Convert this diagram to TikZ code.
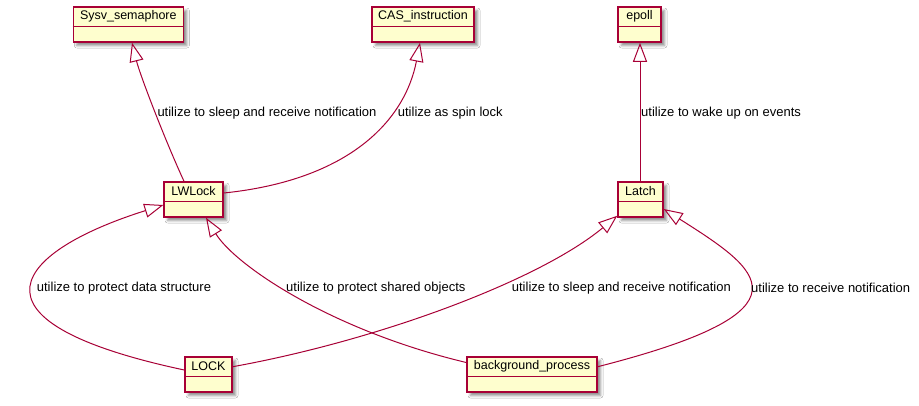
\documentclass[tikz,border=0pt]{standalone}
\usepackage{fontspec}
\setmainfont{Liberation Sans}
\usetikzlibrary{arrows.meta,shadows.blur}
\definecolor{umlfill}{HTML}{FEFECE}
\definecolor{umlborder}{HTML}{A80036}
\newcommand\umlclass[5]{%
  \node[clsbox, minimum width=#4pt] (#1) at (#2,#3+17.5) {};
  \draw[umlborder, line width=1.5pt] ([yshift=-20pt]#1.north west) -- ([yshift=-20pt]#1.north east);
  \node[clstext] (#1-t) at ([yshift=-10pt]#1.north) {#5};
}
\begin{document}
\begin{tikzpicture}[x=1pt,y=-1pt,
  clsbox/.style={draw=umlborder, line width=1.5pt, fill=umlfill, rectangle, inner sep=0pt,
    minimum height=35pt,
    blur shadow={shadow xshift=3.5pt, shadow yshift=-3.5pt, shadow blur radius=2.5pt, shadow opacity=45}},
  clstext/.style={font=\fontsize{12.5}{14}\selectfont, inner sep=0pt},
  gen/.style={draw=umlborder, line width=1pt, -{Triangle[open,length=19pt,width=14pt]}},
  lbl/.style={font=\fontsize{13}{15}\selectfont, anchor=west, inner sep=0pt}]
\useasboundingbox[fill=white] (0,0) rectangle (919,405);

% classes
\umlclass{sysv}{128.3}{7}{110}{Sysv\_semaphore}
\umlclass{cas}{423}{7}{102}{CAS\_instruction}
\umlclass{epoll}{639.5}{7}{43}{epoll}
\umlclass{lw}{193.6}{182}{59}{LWLock}
\umlclass{latch}{640.5}{182}{45}{Latch}
\umlclass{lock}{208.5}{357}{47}{LOCK}
\umlclass{bg}{532}{357}{130}{background\_process}

% connectors
\draw[gen] ([xshift=-9.6pt]lw.north) .. controls (165,140) and (140,75) .. ([xshift=3.7pt]sysv.south);
\draw[gen] ([yshift=6.5pt]lw.east) .. controls (350,180) and (405,120) .. ([xshift=-3pt]cas.south);
\draw[gen] ([xshift=-0.5pt]latch.north) -- ([xshift=0.5pt]epoll.south);
\draw[gen] ([yshift=4.5pt]lock.west) .. controls (-50,320) and (20,250) .. ([yshift=-5.5pt]lw.west);
\draw[gen] ([yshift=12pt]bg.west) .. controls (330,330) and (235,265) .. ([xshift=12.4pt]lw.south);
\draw[gen] ([yshift=7.8pt]lock.east) .. controls (380,340) and (540,280) .. ([yshift=2pt]latch.south west);
\draw[gen] ([yshift=7.8pt]bg.east) .. controls (820,310) and (760,270) .. ([yshift=-9.5pt]latch.east);

% labels
\node[lbl] (l1) at (157.3,113) {utilize to sleep and receive notification};
\node[lbl] (l2) at (397.7,113) {utilize as spin lock};
\node[lbl] (l3) at (641,113) {utilize to wake up on events};
\node[lbl] (l4) at (36.7,288) {utilize to protect data structure};
\node[lbl] (l5) at (286,288) {utilize to protect shared objects};
\node[lbl] (l6) at (511.7,288) {utilize to sleep and receive notification};
\node[lbl] (l7) at (751,288) {utilize to receive notification};
\end{tikzpicture}
\end{document}
